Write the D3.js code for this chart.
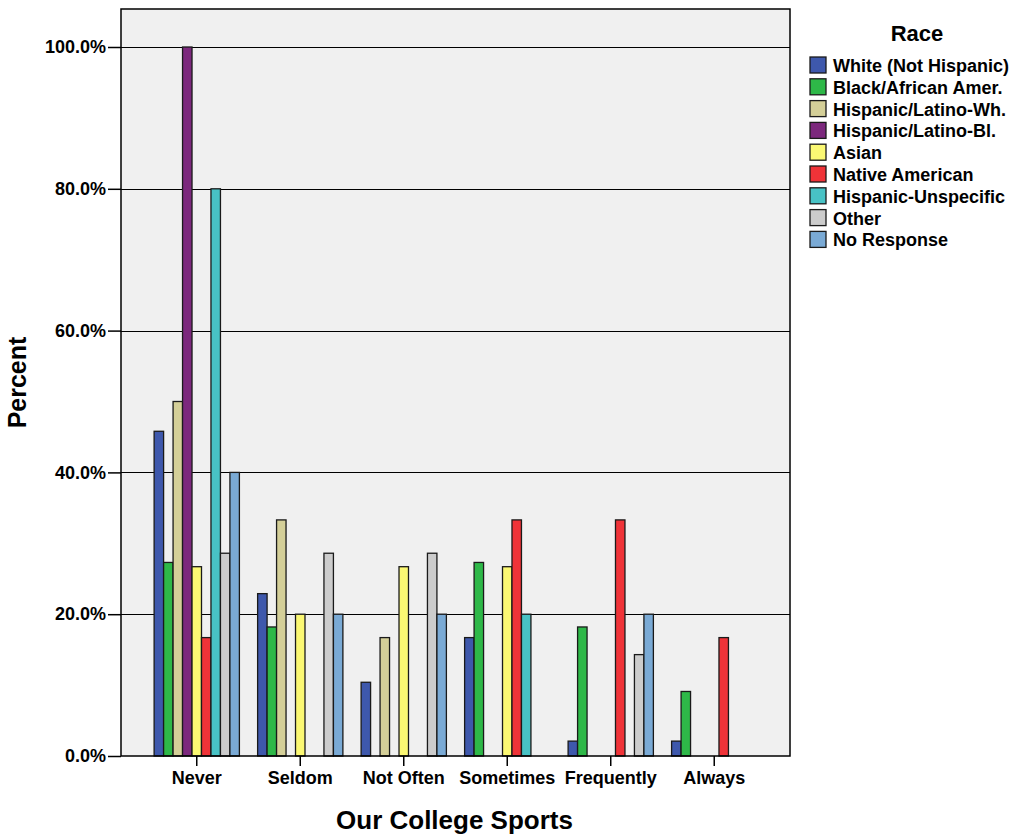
<!DOCTYPE html>
<html>
<head>
<meta charset="utf-8">
<script src="https://cdn.jsdelivr.net/npm/d3@7/dist/d3.min.js"></script>
<style>
  body { margin: 0; background: #fff; }
  text { font-family: "Liberation Sans", Arial, sans-serif; font-weight: bold; fill: #000; }
</style>
</head>
<body>
<svg id="chart" width="1021" height="840"></svg>
<script>
const categories = ["Never", "Seldom", "Not Often", "Sometimes", "Frequently", "Always"];
const seriesNames = ["White (Not Hispanic)", "Black/African Amer.", "Hispanic/Latino-Wh.", "Hispanic/Latino-Bl.", "Asian", "Native American", "Hispanic-Unspecific", "Other", "No Response"];
const seriesColors = ["#3e58ac", "#2eb848", "#d4cf98", "#7c287d", "#fbf873", "#ef3338", "#48c2c5", "#cccccc", "#7aaad5"];
// values per series, in category order (percent)
const whiteNH   = [45.8, 22.9, 10.4, 16.7, 2.1, 2.1];
const blackAA   = [27.3, 18.2, 0, 27.3, 18.2, 9.1];
const hispWh    = [50.0, 33.3, 16.7, 0, 0, 0];
const hispBl    = [100.0, 0, 0, 0, 0, 0];
const asian     = [26.7, 20.0, 26.7, 26.7, 0, 0];
const nativeAm  = [16.7, 0, 0, 33.3, 33.3, 16.7];
const hispUnsp  = [80.0, 0, 0, 20.0, 0, 0];
const other     = [28.6, 28.6, 28.6, 0, 14.3, 0];
const noResp    = [40.0, 20.0, 20.0, 0, 20.0, 0];
const seriesValues = [whiteNH, blackAA, hispWh, hispBl, asian, nativeAm, hispUnsp, other, noResp];
const yTicks = [0, 20, 40, 60, 80, 100];

const svg = d3.select("#chart");
const L = 121, R = 790, T = 9, B = 756;
const FONT = "'Liberation Sans', Arial, sans-serif";

const x = d3.scaleBand().domain(categories).range([L, R]).paddingInner(0.176).paddingOuter(0.32);
const x1 = d3.scaleBand().domain(seriesNames).range([0, x.bandwidth()]);
const y = d3.scaleLinear().domain([0, 100]).range([B, 47]);

// plot background
svg.append("rect").attr("x", L).attr("y", T).attr("width", R - L).attr("height", B - T)
  .attr("fill", "#f0f0f0");

// gridlines
svg.append("g").selectAll("line").data(yTicks.filter(d => d > 0)).join("line")
  .attr("x1", L).attr("x2", R).attr("y1", d => Math.round(y(d)) + 0.5).attr("y2", d => Math.round(y(d)) + 0.5)
  .attr("stroke", "#000").attr("stroke-width", 1.2);

// bars
const flat = [];
seriesNames.forEach((s, i) => {
  categories.forEach((c, j) => {
    const v = seriesValues[i][j];
    if (v > 0) flat.push({ s, c, v, color: seriesColors[i] });
  });
});
svg.append("g").selectAll("rect").data(flat).join("rect")
  .attr("x", d => x(d.c) + x1(d.s))
  .attr("y", d => y(d.v))
  .attr("width", x1.bandwidth())
  .attr("height", d => B - y(d.v))
  .attr("fill", d => d.color)
  .attr("stroke", "#1a1a1a").attr("stroke-width", 1.3);

// plot border
svg.append("rect").attr("x", L).attr("y", T).attr("width", R - L).attr("height", B - T)
  .attr("fill", "none").attr("stroke", "#000").attr("stroke-width", 1.5);

// y axis
const yAxis = d3.axisLeft(y).tickValues(yTicks).tickFormat(d => d.toFixed(1) + "%").tickSize(13).tickPadding(2);
const gy = svg.append("g").attr("transform", `translate(${L},0)`).call(yAxis);
gy.select(".domain").remove();
gy.selectAll(".tick line").attr("stroke", "#000").attr("stroke-width", 1.5);
gy.selectAll(".tick text").style("font-size", "18px").style("font-family", FONT)
  .style("font-weight", "bold").attr("fill", "#000");

// x axis
const xAxis = d3.axisBottom(x).tickSize(10).tickPadding(5);
const gx = svg.append("g").attr("transform", `translate(0,${B})`).call(xAxis);
gx.select(".domain").remove();
gx.selectAll(".tick line").attr("stroke", "#000").attr("stroke-width", 1.5);
gx.selectAll(".tick text").style("font-size", "18px").style("font-family", FONT)
  .style("font-weight", "bold").attr("fill", "#000");

// axis titles
svg.append("text").attr("x", (L + R) / 2 - 1).attr("y", 829).attr("text-anchor", "middle")
  .style("font-size", "26px").text("Our College Sports");
svg.append("text").attr("transform", `translate(26,${(T + B) / 2}) rotate(-90)`).attr("text-anchor", "middle")
  .style("font-size", "25px").text("Percent");

// legend
const lg = svg.append("g");
lg.append("text").attr("x", 917).attr("y", 41).attr("text-anchor", "middle").style("font-size", "22px").text("Race");
const item = lg.selectAll("g.item").data(seriesNames).join("g").attr("class", "item")
  .attr("transform", (d, i) => `translate(810,${57 + i * 21.8})`);
item.append("rect").attr("width", 16).attr("height", 16)
  .attr("fill", (d, i) => seriesColors[i]).attr("stroke", "#1a1a1a").attr("stroke-width", 1.3);
item.append("text").attr("x", 23).attr("y", 15).style("font-size", "18px").text(d => d);
</script>
</body>
</html>
